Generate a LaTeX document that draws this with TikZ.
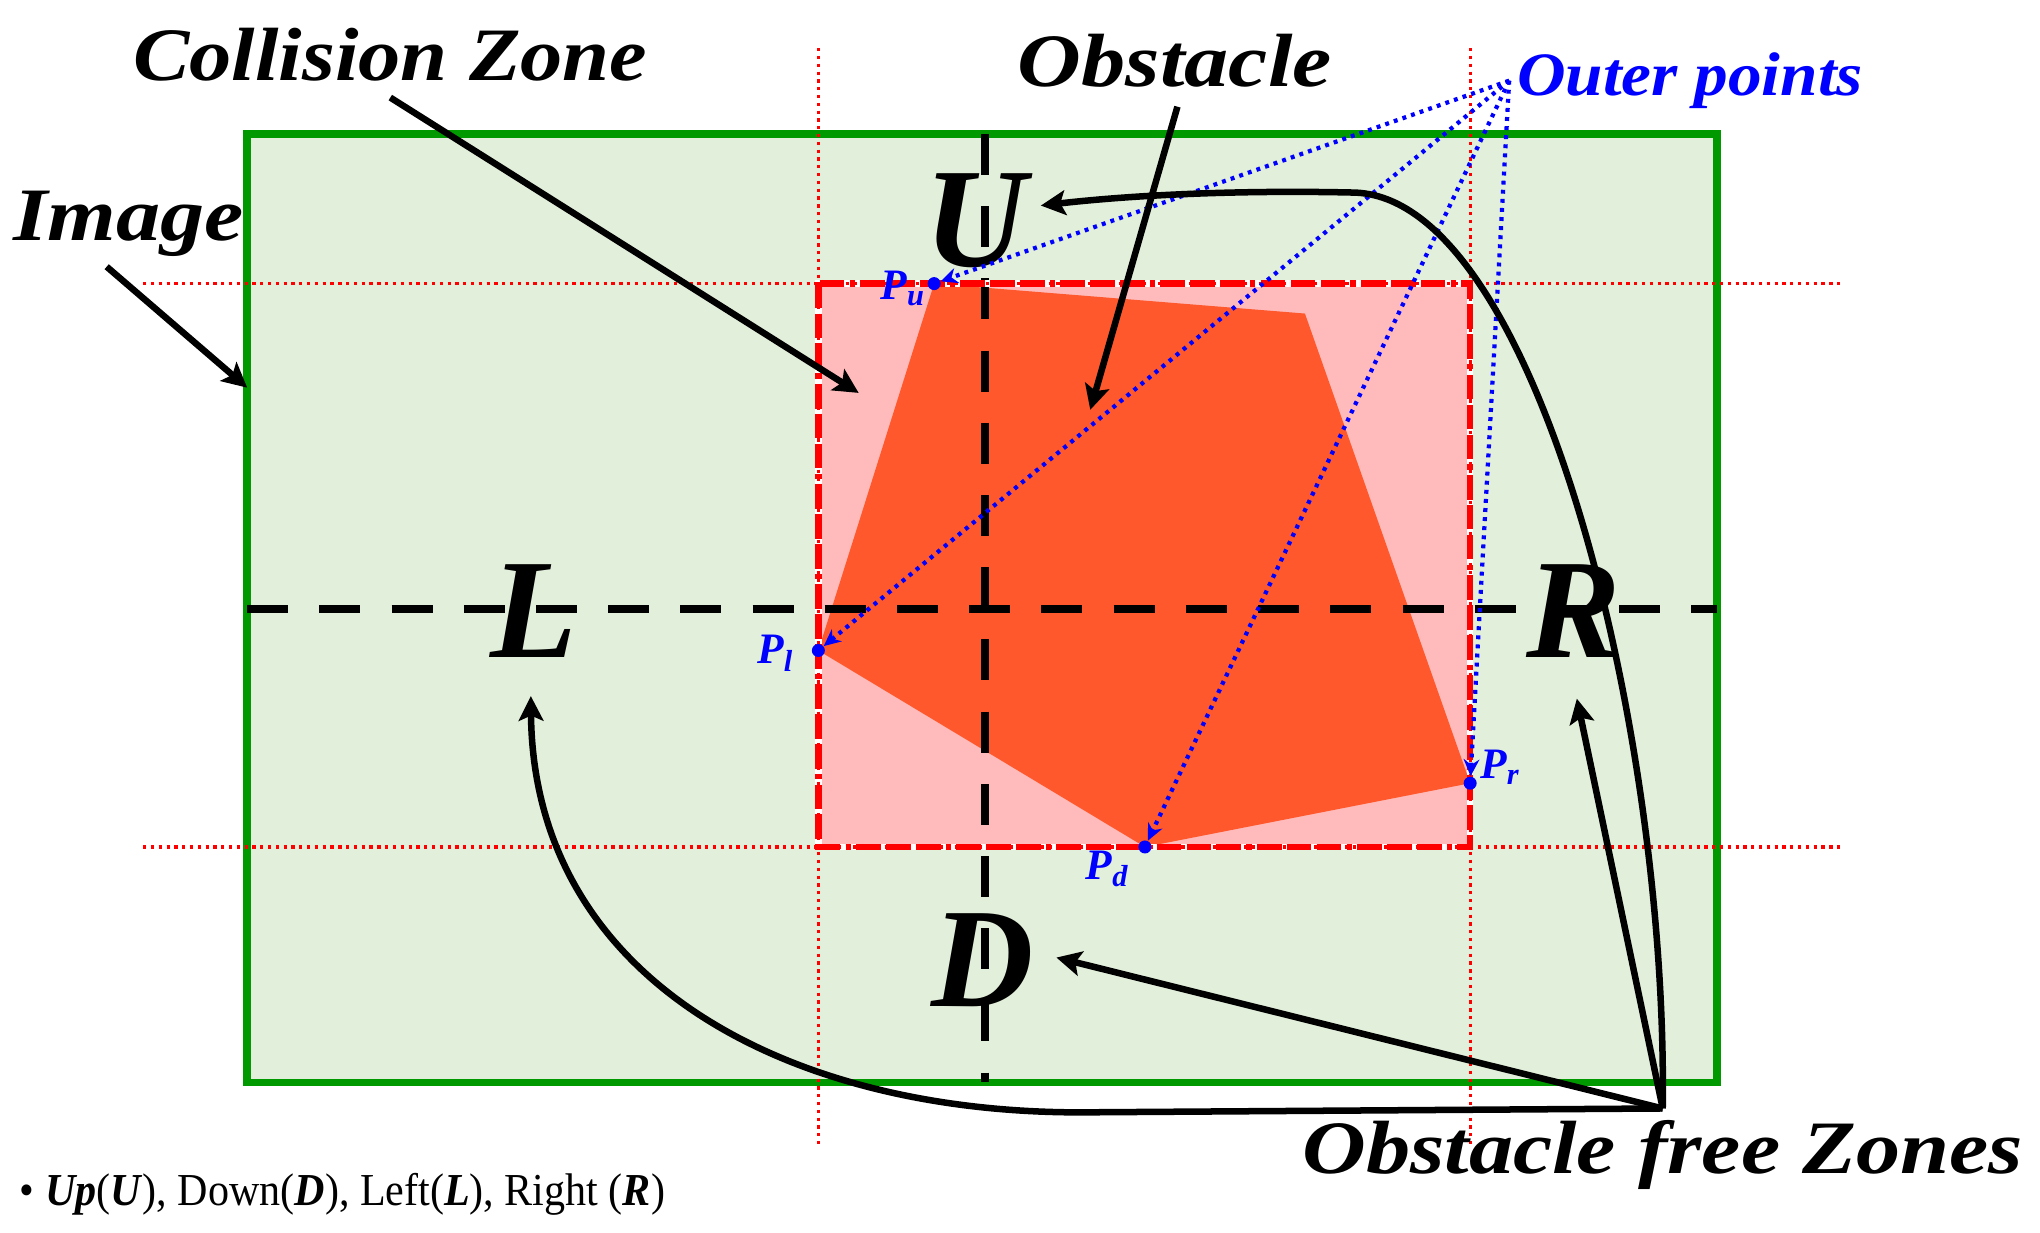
\documentclass[tikz,border=0pt]{standalone}
\usepackage{fontspec}
\setmainfont{Liberation Serif}
\newfontfamily\widefont{Liberation Serif}[FakeStretch=1.17]
\newfontfamily\midfont{Liberation Serif}[FakeStretch=1.12]
\newfontfamily\outerfont{Liberation Serif}[FakeStretch=1.09]
\newfontfamily\narrowfont{Liberation Serif}[FakeStretch=0.92]
\usetikzlibrary{arrows.meta}
\definecolor{imgfill}{RGB}{226,239,218}
\definecolor{imgline}{RGB}{0,153,0}
\definecolor{zonefill}{RGB}{255,187,187}
\definecolor{obsfill}{RGB}{255,88,44}
\definecolor{zred}{RGB}{255,0,0}
\definecolor{pblue}{RGB}{0,0,255}
\begin{document}
\begin{tikzpicture}[x=0.2mm,y=-0.2mm,
  title/.style={inner sep=0pt, font=\widefont\fontsize{33}{38}\selectfont\bfseries\itshape},
  zoneletter/.style={inner sep=0pt, font=\fontsize{62}{70}\selectfont\bfseries\itshape},
  ptlabel/.style={inner sep=0pt, text=pblue, font=\fontsize{19}{22}\selectfont\bfseries\itshape},
  ptdot/.style={circle, fill=pblue, inner sep=0pt, minimum size=2mm},
  guide/.style={zred, line width=0.5mm, dash pattern=on 0.5mm off 0.7mm},
  axis/.style={black, line width=1.3mm, dash pattern=on 6.3mm off 4.8mm},
  blarrow/.style={black, line width=1mm, -{Stealth[length=3.8mm,width=3.8mm,inset=0.8mm]}},
  bluearrow/.style={pblue, line width=0.65mm, dash pattern=on 0.6mm off 0.8mm, -{Stealth[length=2.6mm,width=2.4mm]}},
]
\useasboundingbox (0,0) rectangle (1568,947);

% image rectangle
\draw[imgline, fill=imgfill, line width=1.2mm] (190,103) rectangle (1320,832);
% collision zone fill
\fill[zonefill] (629,218) rectangle (1130,651);
% obstacle
\coordinate (Pu) at (718,218);
\coordinate (Ptr) at (1003,241);
\coordinate (Pr) at (1130,602);
\coordinate (Pd) at (880,651);
\coordinate (Pl) at (629,500);
\fill[obsfill] (Pu) -- (Ptr) -- (Pr) -- (Pd) -- (Pl) -- cycle;

% black dashed axes
\draw[axis] (190,468) -- (1320,468);
\draw[axis] (757,103) -- (757,832);

% collision zone border
\draw[white, line width=1mm] (629,218) rectangle (1130,651);
\draw[zred, line width=1mm, dash pattern=on 3.8mm off 0.8mm on 3.8mm off 0.8mm on 3.8mm off 0.8mm on 0.8mm off 0.8mm] (629,218) rectangle (1130,651);

% red dotted guides
\draw[guide] (110,218) -- (1415,218);
\draw[guide] (110,651) -- (1415,651);
\draw[guide] (629,37) -- (629,882);
\draw[guide] (1130,37) -- (1130,882);

% zone letters
\node[zoneletter] (U) at (750,170) {U};
\node[zoneletter] (L) at (410,470) {L};
\node[zoneletter] (R) at (1210,470) {R};
\node[zoneletter] (D) at (755,738) {D};

% titles
\node[title, font=\midfont\fontsize{33}{38}\selectfont\bfseries\itshape] (cz) at (300,42) {Collision Zone};
\node[title] (obs) at (903,47) {Obstacle};
\node[title] (img) at (99,172) {Image};
\node[title] (fz) at (1278,888) {Obstacle free Zones};
\node[inner sep=0pt, text=pblue, font=\outerfont\fontsize{27}{30}\selectfont\bfseries\itshape] (op) at (1299,62) {Outer points};

% point labels
\node[ptlabel] (lpu) at (694,222) {P\textsubscript{u}};
\node[ptlabel] (lpl) at (596,502) {P\textsubscript{l}};
\node[ptlabel] (lpd) at (851,668) {P\textsubscript{d}};
\node[ptlabel] (lpr) at (1153,590) {P\textsubscript{r}};

% outer points dotted arrows
\coordinate (opo) at (1160,62);
\node[ptdot] (du) at (Pu) {};
\node[ptdot] (dl) at (Pl) {};
\node[ptdot] (dd) at (Pd) {};
\node[ptdot] (dr) at (Pr) {};
\draw[bluearrow] (opo) -- (du);
\draw[bluearrow] (opo) -- (dl);
\draw[bluearrow] (opo) -- (dd);
\draw[bluearrow] (opo) -- (dr);

% black pointer arrows
\coordinate (czs) at (300,75);
\coordinate (czt) at (660,302);
\draw[blarrow] (czs) -- (czt);
\coordinate (imgs) at (82,205);
\coordinate (imgt) at (190,298);
\draw[blarrow] (imgs) -- (imgt);
\coordinate (obss) at (905,82);
\coordinate (obst) at (838,315);
\draw[blarrow] (obss) -- (obst);

% obstacle free zone arrows
\coordinate (fzo) at (1278,852);
\coordinate (tD) at (812,736);
\coordinate (tR) at (1212,537);
\coordinate (tU) at (800,158);
\coordinate (tL) at (408,535);
\draw[blarrow] (fzo) -- (tD);
\draw[blarrow] (fzo) -- (tR);
\draw[blarrow] (fzo) .. controls (1282,560) and (1180,150) .. (1040,148)
   .. controls (950,146) and (870,150) .. (tU);
\draw[blarrow] (fzo) -- (830,855) .. controls (600,855) and (410,750) .. (tL);

% footnote
\node[inner sep=0pt, anchor=west, font=\narrowfont\fontsize{20}{24}\selectfont] (note) at (15,918)
  {\textbullet\ \textbf{\textit{Up}}(\textbf{\textit{U}}), Down(\textbf{\textit{D}}), Left(\textbf{\textit{L}}), Right (\textbf{\textit{R}})};
\end{tikzpicture}
\end{document}
